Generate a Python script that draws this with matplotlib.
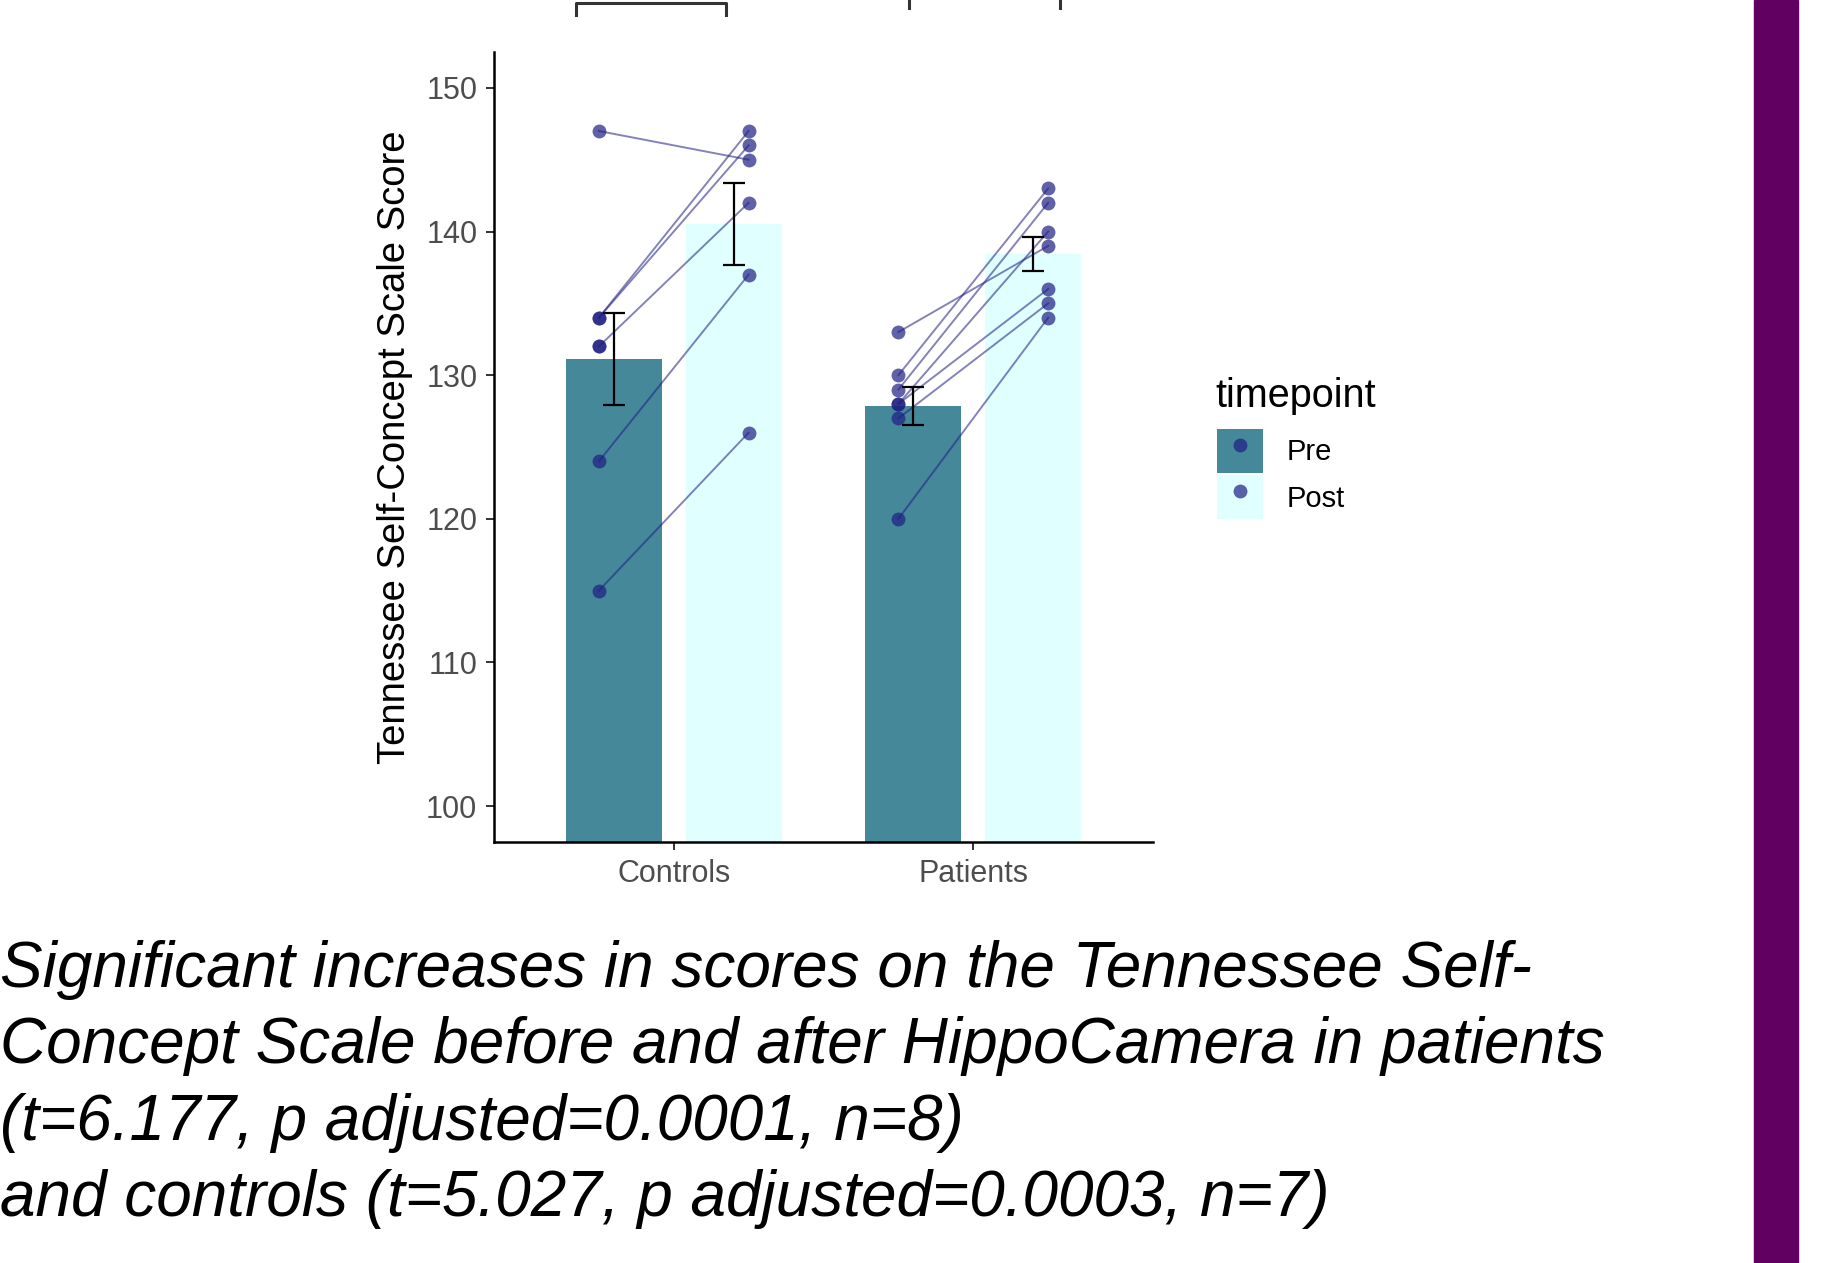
import numpy as np
import matplotlib
matplotlib.use("Agg")
import matplotlib.pyplot as plt
from matplotlib.patches import Patch
from matplotlib.lines import Line2D
from matplotlib.legend_handler import HandlerTuple
import matplotlib.transforms as mtransforms

plt.rcParams['font.family'] = ['Liberation Sans', 'DejaVu Sans']

# Tennessee Self-Concept Scale scores, one entry per participant (pre, post)
groups = ['Controls', 'Patients']
controls_pre = [147, 134, 134, 132, 124, 115, 132]
controls_post = [145, 147, 146, 142, 137, 126, np.nan]
patients_pre = [133, 130, 129, 128, 128, 127, 120]
patients_post = [139, 143, 142, 140, 136, 135, 134]

# standard errors shown by the error bars (pre, post)
controls_se = [3.2, 2.85]
patients_se = [1.3, 1.2]

caption_lines = [
    'Significant increases in scores on the Tennessee Self-',
    'Concept Scale before and after HippoCamera in patients',
    '(t=6.177, p adjusted=0.0001, n=8)',
    'and controls (t=5.027, p adjusted=0.0003, n=7)',
]

pre_color = '#45889A'
post_color = '#E0FFFF'
dot_color = '#1e1e82'

W, H = 1843, 1263
fig = plt.figure(figsize=(W / 100, H / 100), dpi=100)
ax = fig.add_axes([494 / W, 1 - 842 / H, 659 / W, 790 / H])

pre_data = [controls_pre, patients_pre]
post_data = [controls_post, patients_post]
pre_means = [np.nanmean(v) for v in pre_data]
post_means = [np.nanmean(v) for v in post_data]
pre_se = [controls_se[0], patients_se[0]]
post_se = [controls_se[1], patients_se[1]]

x = np.arange(len(groups))
ax.bar(x - 0.2, pre_means, width=0.32, color=pre_color, zorder=1)
ax.bar(x + 0.2, post_means, width=0.32, color=post_color, zorder=1)

# paired lines and points for each participant
for i in range(len(groups)):
    for a, b in zip(pre_data[i], post_data[i]):
        if not np.isnan(b):
            ax.plot([x[i] - 0.25, x[i] + 0.25], [a, b], color=dot_color,
                    alpha=0.55, lw=1.4, zorder=2)
    ax.plot(np.full(len(pre_data[i]), x[i] - 0.25), pre_data[i], 'o',
            color=dot_color, alpha=0.7, ms=10, mec='none', zorder=3)
    ax.plot(np.full(len(post_data[i]), x[i] + 0.25), post_data[i], 'o',
            color=dot_color, alpha=0.7, ms=10, mec='none', zorder=3)

ax.errorbar(x - 0.2, pre_means, yerr=pre_se, fmt='none', ecolor='black',
            elinewidth=1.6, capsize=8, capthick=1.6, zorder=4)
ax.errorbar(x + 0.2, post_means, yerr=post_se, fmt='none', ecolor='black',
            elinewidth=1.6, capsize=8, capthick=1.6, zorder=4)

ax.set_xlim(-0.6, 1.6)
ax.set_ylim(97.5, 152.5)
ax.set_yticks([100, 110, 120, 130, 140, 150])
ax.set_xticks(x)
ax.set_xticklabels(groups)
for side in ['top', 'right']:
    ax.spines[side].set_visible(False)
for side in ['left', 'bottom']:
    ax.spines[side].set_linewidth(1.8)
ax.tick_params(axis='both', length=6, width=1.4, color='#333333',
               labelsize=22, labelcolor='#4d4d4d', pad=6)
ax.set_ylabel('Tennessee Self-Concept Scale Score', fontsize=27.5, color='black')
ax.yaxis.set_label_coords(-0.123, 0.5)

# significance brackets, cut off at the top edge
trans = mtransforms.blended_transform_factory(ax.transData, fig.transFigure)
for x0, x1, ytop, yleg in [(-0.325, 0.176, 3, 15), (0.786, 1.288, -6, 8)]:
    ax.plot([x0, x0, x1, x1], [1 - yleg / H, 1 - ytop / H, 1 - ytop / H, 1 - yleg / H],
            color='#333333', lw=2.2, transform=trans, clip_on=False)

# legend: filled key with the point drawn on top
marker_kw = dict(marker='o', ls='none', color=dot_color, alpha=0.7, ms=10, mec='none')
handles = [
    (Patch(facecolor=pre_color), Line2D([], [], **marker_kw)),
    (Patch(facecolor=post_color), Line2D([], [], **marker_kw)),
]
fig.text(1215 / W, 1 - 407 / H, 'timepoint', fontsize=28.5, va='baseline', ha='left')
fig.legend(handles, ['Pre', 'Post'], loc='upper left',
           bbox_to_anchor=(1217 / W, 1 - 429 / H), frameon=False, fontsize=21,
           borderpad=0, borderaxespad=0, labelspacing=0.07,
           handlelength=1.58, handleheight=1.95, handletextpad=0.8,
           handler_map={tuple: HandlerTuple(ndivide=1, pad=0)})

# caption below the chart
for i, line in enumerate(caption_lines):
    fig.text(0.0, 1 - (987 + 76.3 * i) / H, line, fontsize=46,
             style='italic', va='baseline', ha='left')

# purple side band
fig.patches.append(plt.Rectangle((1754 / W, 0), 44 / W, 1, color='#620062',
                                 transform=fig.transFigure, zorder=0))

fig.savefig('out.png', dpi=100)
